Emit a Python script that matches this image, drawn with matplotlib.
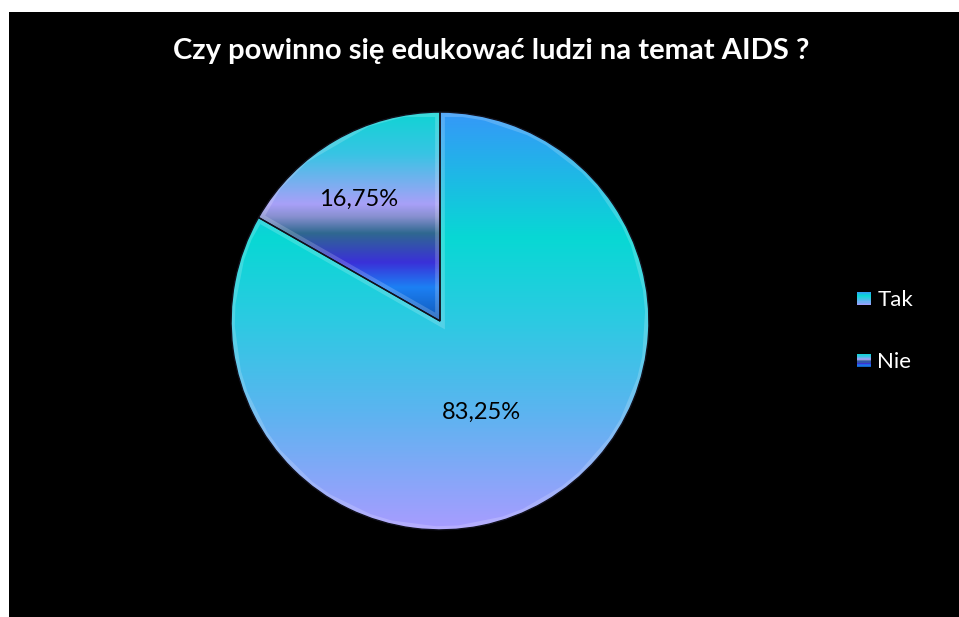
import matplotlib.pyplot as plt
import numpy as np
from matplotlib.colors import LinearSegmentedColormap
from matplotlib.patches import Rectangle, Patch
from matplotlib.legend_handler import HandlerBase

# ------------------------------
# Données
# ------------------------------
title = "Czy powinno się edukować ludzi na temat AIDS ?"
categories = ["Tak", "Nie"]
values = [83.25, 16.75]

# Dégradés de chaque part (haut -> bas)
tak_stops = [(0.0, "#3598f8"), (0.30, "#08d8d4"), (0.50, "#2ccae2"),
             (0.72, "#5cb4f0"), (1.0, "#a89cff")]
nie_stops = [(0.0, "#10d4d4"), (0.20, "#38c4e4"), (0.44, "#a8a0f8"),
             (0.50, "#8890d0"), (0.58, "#2f6890"), (0.72, "#3a30d8"),
             (0.84, "#1c80f4"), (1.0, "#1058b8")]
cmaps = [LinearSegmentedColormap.from_list("tak", tak_stops),
         LinearSegmentedColormap.from_list("nie", nie_stops)]

plt.rcParams["font.family"] = ["Lato", "DejaVu Sans"]

W, H = 959, 617
fig = plt.figure(figsize=(W / 100, H / 100), dpi=100, facecolor="white")

# fond noir de la zone du graphique
bg = fig.add_axes([9 / W, 0, 1 - 9 / W, 1 - 12 / H])
bg.set_facecolor("black")
bg.set_xticks([])
bg.set_yticks([])
for s in bg.spines.values():
    s.set_visible(False)

fig.text(491 / W, 1 - 51 / H, title, color="white", fontsize=21,
         fontweight="bold", ha="center", va="center")

# ------------------------------
# Camembert
# ------------------------------
ax = fig.add_axes([229 / W, 85 / H, 422 / W, 422 / H])
ax.set_facecolor("none")
wedges, _ = ax.pie(values, startangle=90, counterclock=False, radius=1,
                   wedgeprops=dict(linewidth=0))

grad = np.linspace(1, 0, 256).reshape(-1, 1)
for w, cm in zip(wedges, cmaps):
    w.set_facecolor("none")
    ext = w.get_path().get_extents()
    im = ax.imshow(grad, cmap=cm, vmin=0, vmax=1, aspect="auto",
                   extent=[ext.x0, ext.x1, ext.y0, ext.y1], origin="lower",
                   zorder=1)
    im.set_clip_path(w)
    # léger effet de biseau
    hl = plt.Polygon(w.get_path().vertices, closed=True, fill=False,
                     edgecolor="white", alpha=0.18, linewidth=7, zorder=2)
    ax.add_patch(hl)
    hl.set_clip_path(w)
    w.set_edgecolor("#10101c")
    w.set_linewidth(1.0)
    w.set_zorder(3)

# étiquettes de pourcentage
label_dist = [0.48, 0.70]
label_shift = [-6, 3.5]
for w, v, d, sh in zip(wedges, values, label_dist, label_shift):
    ang = np.deg2rad((w.theta1 + w.theta2) / 2 + sh)
    ax.text(d * np.cos(ang), d * np.sin(ang), f"{v:.2f}%".replace(".", ","),
            ha="center", va="center", fontsize=17, color="black", zorder=4)
ax.set_xlim(-1.01, 1.01)
ax.set_ylim(-1.01, 1.01)
ax.set_aspect("equal")


# ------------------------------
# Légende avec carrés en dégradé
# ------------------------------
class GradientHandler(HandlerBase):
    def __init__(self, cmap):
        super().__init__()
        self.cmap = cmap

    def create_artists(self, legend, orig_handle, xdescent, ydescent,
                       width, height, fontsize, trans):
        n = 12
        size = height * 0.85
        x0 = width - size
        y0 = -ydescent + (height - size) / 2
        arts = []
        for i in range(n):
            c = self.cmap((i + 0.5) / n)
            r = Rectangle((x0, y0 + size * (n - 1 - i) / n), size, size / n,
                          facecolor=c, edgecolor="none", transform=trans)
            arts.append(r)
        return arts


handles = [Patch(label=c) for c in categories]
leg = fig.legend(handles=handles, loc="center left",
                 bbox_to_anchor=(854 / W, 1 - 331 / H), frameon=False,
                 borderpad=0, borderaxespad=0,
                 fontsize=16, labelcolor="white", handlelength=0.75,
                 handletextpad=0.3, labelspacing=1.9,
                 handler_map={handles[0]: GradientHandler(cmaps[0]),
                              handles[1]: GradientHandler(cmaps[1])})

fig.savefig("out.png", dpi=100, facecolor="white")
